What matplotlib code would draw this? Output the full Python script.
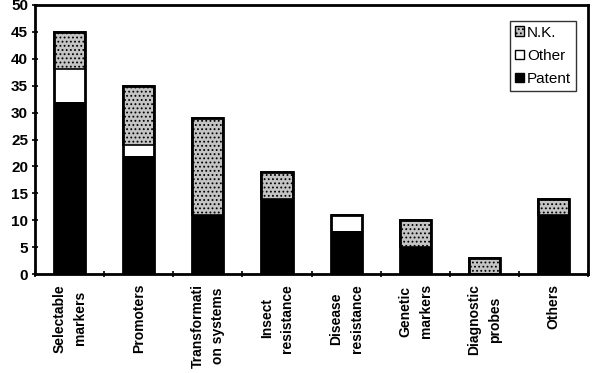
import numpy as np
import matplotlib
matplotlib.use('Agg')
import matplotlib.pyplot as plt
from matplotlib.patches import Patch

plt.rcParams['font.family'] = ['Liberation Sans', 'DejaVu Sans']
plt.rcParams['hatch.linewidth'] = 0.8

categories = ['Selectable\nmarkers', 'Promoters', 'Transformati\non systems',
              'Insect\nresistance', 'Disease\nresistance', 'Genetic\nmarkers',
              'Diagnostic\nprobes', 'Others']
patent = [32, 22, 11, 14, 8, 5, 0, 11]
other = [6, 2, 0, 0, 3, 0, 0, 0]
nk = [7, 11, 18, 5, 0, 5, 3, 3]

fig = plt.figure(figsize=(5.93, 3.73), dpi=100)
ax = fig.add_axes([0.059, 0.265, 0.933, 0.722])

x = np.arange(len(categories))
w = 0.45
patent = np.array(patent)
other = np.array(other)
nk = np.array(nk)

ax.bar(x, patent, w, color='black', edgecolor='black', linewidth=0)
ax.bar(x, other, w, bottom=patent, color='white', edgecolor='black', linewidth=0)
ax.bar(x, nk, w, bottom=patent + other, color='#c4c4c4', edgecolor='black',
       hatch='....', linewidth=1.2)
# outline of each stacked bar
ax.bar(x, patent + other + nk, w, fill=False, edgecolor='black', linewidth=2.0)

ax.set_xlim(-0.5, len(categories) - 0.5)
ax.set_ylim(0, 50)
ax.set_yticks(range(0, 51, 5))
ax.set_xticks(np.arange(-0.5, len(categories), 1))
ax.set_xticklabels([])
ax.set_xticks(x, minor=True)
ax.set_xticklabels(categories, minor=True, rotation=90, va='top', ha='center',
                   multialignment='center', fontsize=10, fontweight='bold',
                   linespacing=1.6)
ax.tick_params(axis='x', which='minor', length=0, pad=7)
ax.tick_params(axis='x', which='major', length=5, width=1.2, direction='inout')
ax.tick_params(axis='y', length=4, width=1.2, direction='inout', labelsize=11, pad=3)
for lab in ax.get_yticklabels():
    lab.set_fontweight('bold')
for s in ax.spines.values():
    s.set_linewidth(2.0)

handles = [Patch(facecolor='#c4c4c4', edgecolor='black', hatch='....', label='N.K.'),
           Patch(facecolor='white', edgecolor='black', label='Other'),
           Patch(facecolor='black', edgecolor='black', label='Patent')]
leg = ax.legend(handles=handles, loc='upper right', bbox_to_anchor=(0.977, 0.94),
                frameon=True, fancybox=False, edgecolor='black', fontsize=11,
                handlelength=0.6, handleheight=0.6, handletextpad=0.2,
                borderpad=0.3, labelspacing=0.6, borderaxespad=0)
leg.get_frame().set_linewidth(1.0)

fig.savefig('out.png', dpi=100)
